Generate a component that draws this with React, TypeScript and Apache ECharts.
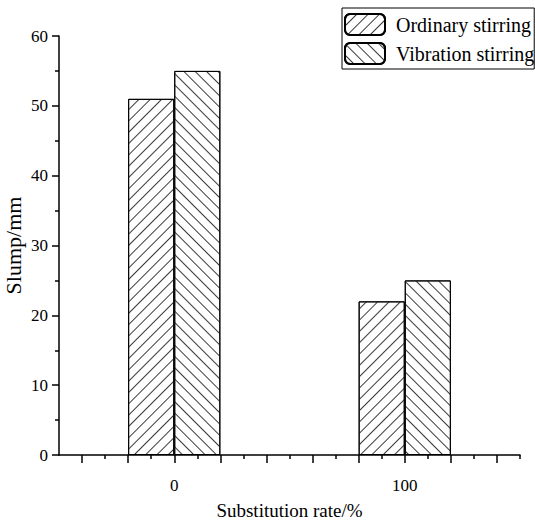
import React, { useEffect, useRef } from "react";
import * as echarts from "echarts";

const categories = ["0", "100"];
const ordinary = [51, 22];
const vibration = [55, 25];
const seriesNames = ["Ordinary stirring", "Vibration stirring"];
const majorTicksX = [-40, -20, 0, 20, 40, 60, 80, 100, 120, 140];
const minorTicksX = [-30, -10, 10, 30, 50, 70, 90, 110, 130, 150];

const FONT = "Liberation Serif";

export default function App() {
  const ref = useRef<HTMLDivElement>(null);
  useEffect(() => {
    if (!ref.current) return;
    const chart = echarts.init(ref.current, null, { renderer: "svg" });
    const hatch = (rot: number) => ({
      symbol: "rect",
      symbolSize: 1,
      dashArrayX: [1, 0],
      dashArrayY: [1, 6.5],
      rotation: rot,
      color: "#3a3a3a",
      backgroundColor: "#fff",
    });
    const tickAxis = (vals: number[], len: number) => ({
      type: "value",
      position: "bottom",
      min: -50,
      max: 150,
      axisLine: { show: false },
      axisLabel: { show: false },
      splitLine: { show: false },
      axisTick: {
        show: true,
        customValues: vals,
        length: len,
        lineStyle: { color: "#000", width: 1.5 },
      },
    });
    chart.setOption({
      animation: false,
      backgroundColor: "#fff",
      textStyle: { fontFamily: FONT, color: "#000" },
      grid: {
        left: 59,
        right: 15,
        top: 36,
        bottom: 68,
        containLabel: false,
        outerBoundsMode: "none",
      },
      legend: {
        orient: "vertical",
        left: 342,
        top: 8,
        padding: [5, 0, 4, 2],
        itemGap: 6,
        itemWidth: 40,
        itemHeight: 21,
        borderColor: "#000",
        borderWidth: 1,
        borderRadius: 0,
        textStyle: { fontFamily: FONT, fontSize: 20, color: "#000", padding: [0, 0, 0, 6] },
        data: seriesNames,
      },
      xAxis: [
        {
          type: "category",
          data: categories,
          boundaryGap: true,
          axisLine: { onZero: false, lineStyle: { color: "#000", width: 1.5 } },
          axisTick: { show: false },
          axisLabel: { fontFamily: FONT, fontSize: 17, color: "#000", margin: 22 },
          name: "Substitution rate/%",
          nameLocation: "middle",
          nameGap: 46,
          nameTextStyle: { fontFamily: FONT, fontSize: 19, color: "#000" },
        },
        tickAxis(majorTicksX, 8),
        tickAxis(minorTicksX, 4),
      ],
      yAxis: {
        type: "value",
        min: 0,
        max: 60,
        interval: 10,
        axisLine: { show: true, onZero: false, lineStyle: { color: "#000", width: 1.5 } },
        axisTick: { show: true, length: 7, lineStyle: { color: "#000", width: 1.5 } },
        minorTick: { show: true, splitNumber: 2, length: 4, lineStyle: { color: "#000", width: 1.5 } },
        splitLine: { show: false },
        axisLabel: { fontFamily: FONT, fontSize: 17, color: "#000", margin: 11 },
        name: "Slump/mm",
        nameLocation: "middle",
        nameGap: 35,
        nameMoveOverlap: false,
        nameTextStyle: { fontFamily: FONT, fontSize: 22, color: "#000" },
      },
      series: [
        {
          name: seriesNames[0],
          type: "bar",
          xAxisIndex: 0,
          data: ordinary,
          barWidth: "20%",
          barGap: "0%",
          itemStyle: {
            color: "#fff",
            borderColor: "#000",
            borderWidth: 1,
            decal: hatch(-Math.PI / 4),
          },
        },
        {
          name: seriesNames[1],
          type: "bar",
          xAxisIndex: 0,
          data: vibration,
          barWidth: "20%",
          barGap: "0%",
          itemStyle: {
            color: "#fff",
            borderColor: "#000",
            borderWidth: 1,
            decal: hatch(Math.PI / 4),
          },
        },
      ],
    });
    return () => chart.dispose();
  }, []);
  return (
    <div
      ref={ref}
      style={{ position: "fixed", left: 0, top: 0, width: 535, height: 523, background: "#fff" }}
    />
  );
}
